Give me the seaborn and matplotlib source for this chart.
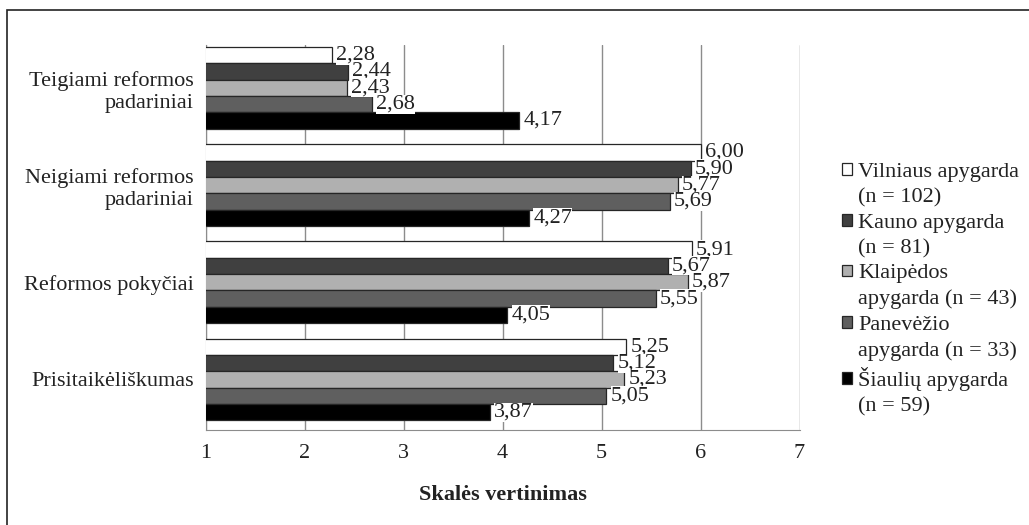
import pandas as pd
import matplotlib
matplotlib.use("Agg")
import matplotlib.pyplot as plt
import seaborn as sns
from matplotlib.patches import Rectangle, Patch

# data
categories = ["Teigiami reformos\npadariniai", "Neigiami reformos\npadariniai",
              "Reformos pokyčiai", "Prisitaikėliškumas"]
groups = ["Vilniaus apygarda\n(n = 102)", "Kauno apygarda\n(n = 81)",
          "Klaipėdos\napygarda (n = 43)", "Panevėžio\napygarda (n = 33)",
          "Šiaulių apygarda\n(n = 59)"]
vilnius = [2.28, 6.00, 5.91, 5.25]
kaunas = [2.44, 5.90, 5.67, 5.12]
klaipeda = [2.43, 5.77, 5.87, 5.23]
panevezys = [2.68, 5.69, 5.55, 5.05]
siauliai = [4.17, 4.27, 4.05, 3.87]
colors = ["#ffffff", "#404040", "#b0b0b0", "#5f5f5f", "#000000"]
x_ticks = [1, 2, 3, 4, 5, 6, 7]

series = [vilnius, kaunas, klaipeda, panevezys, siauliai]
rows = []
for g, vals in zip(groups, series):
    for c, v in zip(categories, vals):
        rows.append({"Kategorija": c, "Apygarda": g, "Vertė": v})
df = pd.DataFrame(rows)

sns.set_style("white")
plt.rcParams['font.family'] = ['Liberation Serif', 'DejaVu Serif']
fs = 16
txt = "#222222"

fig = plt.figure(figsize=(10.29, 5.25), dpi=100)
ax = fig.add_axes([205.5 / 1029, 1 - 430 / 525, 594 / 1029, 385 / 525])

sns.barplot(data=df, y="Kategorija", x="Vertė", hue="Apygarda", orient="h",
            order=categories, hue_order=groups, palette=colors, width=0.84,
            edgecolor="#262626", linewidth=0.9, saturation=1, ax=ax, zorder=3)

for cont in ax.containers:
    ax.bar_label(cont, fmt=lambda v: f"{v:.2f}".replace(".", ","), padding=3,
                 fontsize=fs, color=txt, zorder=5,
                 bbox=dict(facecolor="white", edgecolor="none", pad=0))

ax.set_xlim(1, 7)
ax.set_ylim(3.52, -0.44)
ax.set_xticks(x_ticks)
ax.set_xticklabels([str(t) for t in x_ticks], fontsize=fs, color=txt)
ax.tick_params(axis="y", labelsize=fs, labelcolor=txt, length=0, pad=8.5)
ax.tick_params(axis="x", length=7, width=1, color="#8c8c8c", direction="out", pad=3)
ax.grid(axis="x", color="#8c8c8c", linewidth=1, zorder=0)
ax.set_axisbelow(True)
for side in ["top", "right"]:
    ax.spines[side].set_visible(False)
ax.spines["left"].set_color("#8c8c8c")
ax.spines["bottom"].set_color("#8c8c8c")
ax.set_ylabel("")
ax.set_xlabel("Skalės vertinimas", fontsize=fs, fontweight="bold", color=txt,
              labelpad=16)

# legend: marker on the first line of each two-line label
handles, labels = ax.get_legend_handles_labels()
ax.get_legend().remove()
leg_h, leg_l = [], []
for h, lab in zip(handles, labels):
    first, second = lab.split("\n")
    leg_h.append(h)
    leg_l.append(first)
    leg_h.append(Patch(facecolor="none", edgecolor="none"))
    leg_l.append(second)
fig.legend(leg_h, leg_l, loc="upper left", bbox_to_anchor=(842 / 1029, 1 - 163 / 525),
           frameon=False, fontsize=fs, handlelength=0.45, handleheight=0.45,
           handletextpad=0.27, labelspacing=0.28, borderaxespad=0, borderpad=0,
           labelcolor=txt)

# outer frame (only top and left edges fall inside the image)
fig.patches.append(Rectangle((7 / 1029, -0.1), 1.2, 1 - 10 / 525 + 0.1,
                             transform=fig.transFigure, fill=False,
                             edgecolor="#222222", linewidth=1.2))

fig.savefig("out.png", dpi=100)
